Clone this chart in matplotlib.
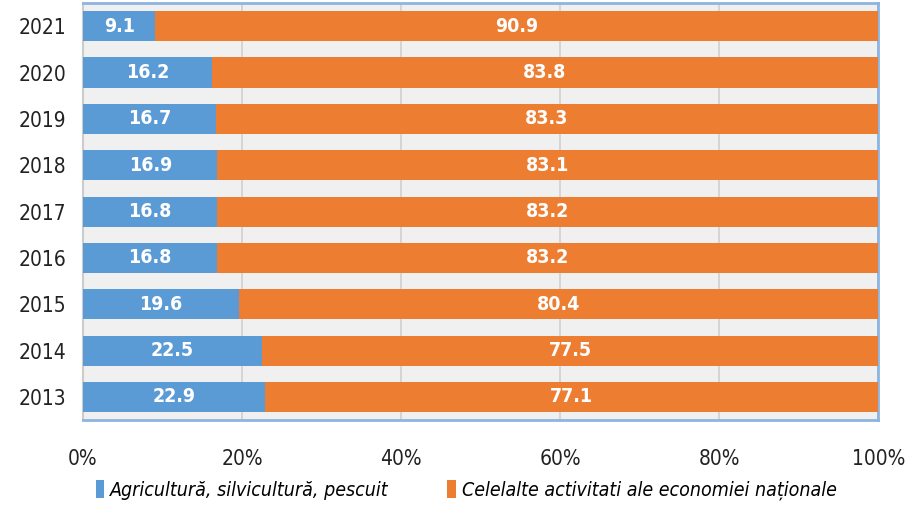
import matplotlib

matplotlib.use("Agg")
import matplotlib.pyplot as plt
import numpy as np

plt.rcParams["font.family"] = ["DejaVu Sans"]
plt.rcParams["font.stretch"] = "condensed"

years = ["2013", "2014", "2015", "2016", "2017", "2018", "2019", "2020", "2021"]
agri = [22.9, 22.5, 19.6, 16.8, 16.8, 16.9, 16.7, 16.2, 9.1]
other = [77.1, 77.5, 80.4, 83.2, 83.2, 83.1, 83.3, 83.8, 90.9]
labels = ["Agricultură, silvicultură, pescuit",
          "Celelalte activitati ale economiei naționale"]

BLUE = "#5b9bd5"
ORANGE = "#ed7d31"

fig = plt.figure(figsize=(9.12, 5.05), dpi=100)
ax = fig.add_axes([0.091, 0.168, 0.872, 0.826])
ax.set_facecolor("#f0f0f0")

y = np.arange(len(years))
h = 0.65
b1 = ax.barh(y, agri, height=h, color=BLUE, label=labels[0], zorder=3)
b2 = ax.barh(y, other, left=agri, height=h, color=ORANGE, label=labels[1], zorder=3)

# value labels in the middle of each segment
for i in range(len(years)):
    ax.text(agri[i] / 2, y[i], f"{agri[i]:.1f}", color="white", fontsize=14,
            fontweight="bold", ha="center", va="center", zorder=4)
    ax.text(agri[i] + other[i] / 2, y[i], f"{other[i]:.1f}", color="white",
            fontsize=14, fontweight="bold", ha="center", va="center", zorder=4)

ax.set_xlim(0, 100)
ax.set_ylim(-0.5, 8.5)
ax.set_yticks(y)
ax.set_yticklabels(years, fontsize=15, color="#222222")
ax.set_xticks(np.arange(0, 101, 20))
ax.set_xticklabels([f"{v}%" for v in range(0, 101, 20)], fontsize=15, color="#222222")
ax.tick_params(axis="x", length=0, pad=21)
ax.tick_params(axis="y", length=0, pad=12)
ax.grid(axis="x", color="#d0d0d0", linewidth=1.2, zorder=0)

for side in ["top", "right", "bottom"]:
    ax.spines[side].set_color("#8db4e2")
    ax.spines[side].set_linewidth(2)
ax.spines["left"].set_color("#cccccc")
ax.spines["left"].set_linewidth(1.5)

fig.legend(handles=[b1, b2], labels=labels, loc="center", bbox_to_anchor=(0.511, 0.03),
           ncol=2, frameon=False, handlelength=0.45, handleheight=1.1,
           handletextpad=0.3, columnspacing=3.0,
           prop={"size": 14, "style": "italic"})

fig.savefig("out.png", dpi=100)
